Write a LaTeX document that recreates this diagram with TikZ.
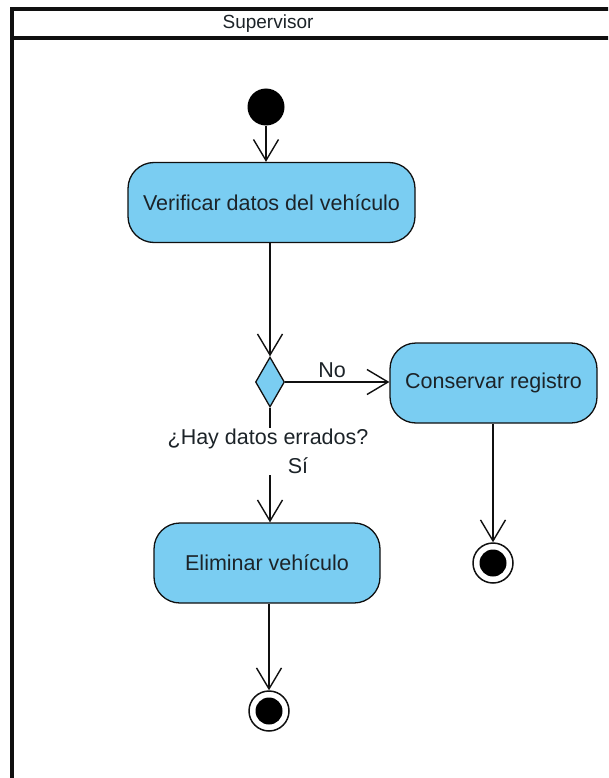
\documentclass[tikz,border=0pt]{standalone}
\usepackage{fontspec}
\setmainfont{Liberation Sans}
\usetikzlibrary{arrows.meta,shapes.geometric,calc}
\definecolor{actfill}{HTML}{7ACDF2}
\definecolor{inkline}{HTML}{101010}
\definecolor{inktext}{HTML}{1C2328}
\begin{document}
\begin{tikzpicture}[x=1pt,y=-1pt,
  txt/.style={text=inktext, font=\fontsize{21.5}{24}\selectfont},
  action/.style={txt, draw=inkline, line width=1.3pt, fill=actfill,
    rounded corners=26pt, minimum height=80pt, inner sep=0pt},
  decision/.style={diamond, draw=inkline, fill=actfill, line width=1.3pt,
    minimum width=29pt, minimum height=50pt, inner sep=0pt},
  startnode/.style={circle, fill=black, minimum size=37pt, inner sep=0pt},
  endnode/.style={circle, draw=inkline, line width=1.5pt, fill=white,
    minimum size=40pt, inner sep=0pt,
    path picture={\fill[black] (path picture bounding box.center) circle (13.5pt);}},
  flow/.style={draw=inkline, line width=1.4pt,
    -{Straight Barb[length=21pt,width=25pt,line width=1.4pt]}},
  plain/.style={draw=inkline, line width=1.4pt},
  lane/.style={draw=inkline, line width=3.2pt},
]
\useasboundingbox (0,0) rectangle (608,778);
\clip (0,0) rectangle (608,778);

% swimlane frame
\draw[lane] (640,9) -- (12,9) -- (12,800);
\draw[lane] (12,38) -- (640,38);
\node[text=inktext, font=\fontsize{19}{22}\selectfont] (lanetitle) at (268,24) {Supervisor};

% nodes
\node[startnode] (init) at (266,107) {};
\node[action, minimum width=287pt] (verify) at (271.5,202.5) {Verificar datos del vehículo};
\node[decision] (dec) at (270,382) {};
\node[action, minimum width=207pt] (keep) at (493.5,383) {Conservar registro};
\node[txt, inner sep=1pt] (ask) at (268,439) {¿Hay datos errados?};
\node[txt, inner sep=1pt] (yes) at (298,466) {Sí};
\node[action, minimum width=226pt] (del) at (267,563) {Eliminar vehículo};
\node[endnode] (endA) at (269,711) {};
\node[endnode] (endB) at (493,563) {};

% control flows
\draw[flow] (init) -- (init |- verify.north);
\draw[flow] (dec.north |- verify.south) -- (dec.north);
\draw[flow] (dec.east) -- node[txt, above, pos=0.45] (nolabel) {No} (keep.west |- dec.east);
\draw[plain] (dec.south) -- (dec.south |- ask.north);
\draw[flow] (dec.south |- yes.south) -- (dec.south |- del.north);
\draw[flow] (endA.north |- del.south) -- (endA.north);
\draw[flow] (endB.north |- keep.south) -- (endB.north);
\end{tikzpicture}
\end{document}
